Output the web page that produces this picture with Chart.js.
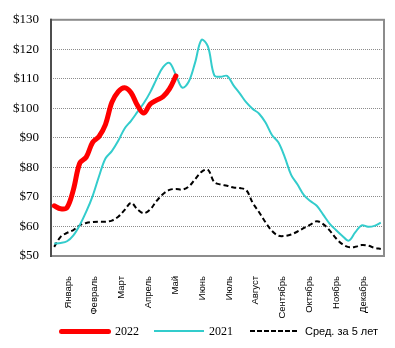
<!DOCTYPE html>
<html>
<head>
<meta charset="utf-8">
<script src="https://cdn.jsdelivr.net/npm/chart.js@4"></script>
<style>
  body { margin: 0; background: #fff; }
  #wrap { position: relative; width: 395px; height: 348px; }
  #legend {
    position: absolute; left: 59px; top: 323px; height: 16px;
    display: flex; align-items: center;
    font: 11px 'Liberation Sans', Arial, sans-serif; color: #000;
  }
  .swatch { display: inline-block; }
  .num { font-family: 'Liberation Serif', 'Times New Roman', serif; font-size: 12px; }
</style>
</head>
<body>
<div id="wrap">
  <canvas id="prices"></canvas>
  <div id="legend">
    <span class="swatch" style="width:52px;height:5px;background:#ff0000;border-radius:3px"></span>
    <span class="num" style="margin-left:4px">2022</span>
    <span class="swatch" style="margin-left:15px;width:50px;height:2px;background:#33cccc"></span>
    <span class="num" style="margin-left:5px">2021</span>
    <span class="swatch" style="margin-left:17px;width:48px;height:2px;background:repeating-linear-gradient(to right,#000 0 5px,transparent 5px 7px)"></span>
    <span style="margin-left:7px">Сред. за 5 лет</span>
  </div>
</div>
<script>
const months = ['Январь', 'Февраль', 'Март', 'Апрель', 'Май', 'Июнь',
                'Июль', 'Август', 'Сентябрь', 'Октябрь', 'Ноябрь', 'Декабрь'];

// week numbers 1..52
const weeks = Array.from({ length: 52 }, (_, i) => i + 1);

const price2022 = [67, 66, 66.4, 72.5, 81.5, 83.5, 88.5, 90.5, 94.5, 102,
                   105.7, 107, 105.3, 101, 98.4, 101.5, 102.8, 104, 106.6, 111];

const price2021 = [54.2, 54.4, 55, 57, 60.5, 65, 70.3, 77, 83, 85.5,
                   89, 93.2, 95.8, 98.8, 101.8, 105.5, 110, 114, 115.4, 111.3,
                   107, 109, 115.5, 123.2, 121, 111.2, 110.7, 111, 107.8, 105,
                   102, 99.8, 98.2, 95.2, 91, 88.5, 83.5, 77.5, 74.2, 70.6,
                   68.6, 67, 64, 61, 58.8, 56.8, 55.2, 58, 60.4, 59.9,
                   60.2, 61.3];

const avg5y = [53.1, 56.5, 57.8, 58.8, 60.4, 61.2, 61.5, 61.6, 61.6, 62,
               63.3, 65.6, 68, 65.8, 64.5, 65.8, 68.7, 71, 72.4, 72.7,
               72.5, 73.5, 76, 78.5, 79.2, 75, 74.2, 73.8, 73.2, 73,
               72.3, 68, 64.8, 61.4, 58.5, 56.9, 56.8, 57.3, 58.3, 59.5,
               60.6, 61.8, 60.8, 58.7, 56, 54, 53, 53.1, 53.7, 53.5,
               52.8, 52.4];

// month names sit around the middle of each month on the week axis
const monthWeek = months.map((_, k) => 3.15 + k * 4.19);

// grey box round the plot, darker on the left
const frame = {
    id: 'frame',
    beforeDatasetsDraw(chart) {
        const { ctx, chartArea: a } = chart;
        ctx.save();
        ctx.lineWidth = 2;
        ctx.strokeStyle = '#8c8c8c';
        ctx.strokeRect(a.left, a.top, a.right - a.left, a.bottom - a.top);
        ctx.strokeStyle = '#4d4d4d';
        ctx.beginPath();
        ctx.moveTo(a.left, a.top - 1);
        ctx.lineTo(a.left, a.bottom + 1);
        ctx.stroke();
        ctx.restore();
    }
};

Chart.defaults.font.family = "'Liberation Sans', Arial, sans-serif";

new Chart(document.getElementById('prices'), {
    type: 'line',
    data: {
        labels: weeks,
        datasets: [
            {
                label: '2022',
                data: price2022,
                borderColor: '#ff0000',
                borderWidth: 5,
                borderCapStyle: 'round',
                borderJoinStyle: 'round',
                tension: 0.35,
                pointRadius: 0
            },
            {
                label: '2021',
                data: price2021,
                borderColor: '#33cccc',
                borderWidth: 2,
                tension: 0.35,
                pointRadius: 0
            },
            {
                label: 'Сред. за 5 лет',
                data: avg5y,
                borderColor: '#000',
                borderWidth: 2,
                borderDash: [5, 3],
                tension: 0.35,
                pointRadius: 0
            }
        ]
    },
    options: {
        responsive: true,
        maintainAspectRatio: false,
        animation: false,
        layout: { padding: { top: 12, right: 11, bottom: 22, left: 0 } },
        plugins: {
            legend: { display: false },
            tooltip: { enabled: false }
        },
        scales: {
            x: {
                type: 'linear',
                min: 0.5,
                max: 52.5,
                grid: { display: false },
                border: { display: false },
                afterBuildTicks: s => { s.ticks = monthWeek.map(v => ({ value: v })); },
                afterFit: s => { s.height = 70; },
                ticks: {
                    autoSkip: false,
                    minRotation: 90,
                    maxRotation: 90,
                    padding: 12,
                    color: '#000',
                    font: { size: 9.5 },
                    callback: (v, i) => months[i]
                }
            },
            y: {
                min: 50,
                max: 130,
                afterFit: s => { s.width = 51; },
                grid: { color: '#8c8c8c', drawTicks: false },
                border: { display: false, dash: [1, 1] },
                ticks: {
                    stepSize: 10,
                    padding: 12,
                    color: '#000',
                    font: { family: "'Liberation Serif', 'Times New Roman', serif", size: 13 },
                    callback: v => '$' + v
                }
            }
        }
    },
    plugins: [frame]
});
</script>
</body>
</html>
